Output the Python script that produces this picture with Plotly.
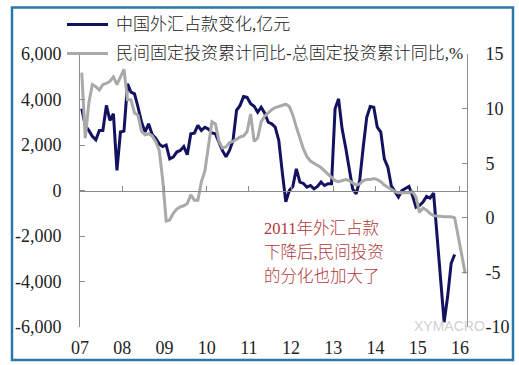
import plotly.graph_objects as go

# ---------------- data (monthly, Jan 2007 onward) ----------------
fx_change = [3600, 2850, 2640, 2380, 2230, 2640, 2640, 3740, 3080, 3370, 880, 2570,
             2610, 4690, 4320, 4250, 3660, 3000, 2570, 2930, 2460, 2300, 2050, 1930,
             2000, 1390, 1470, 1690, 1760, 1930, 1570, 2490, 2520, 2860, 2640, 2780,
             2700, 2530, 2490, 2100, 1750, 1480, 1760, 2200, 3520, 3740, 4130, 4100,
             3810, 3700, 3440, 3660, 3400, 3000, 2930, 2780, 2200, 800, -500, 0,
             180, 950, 370, 310, 150, 220, 70, 180, 370, 220, 300, 300,
             3590, 4030, 2710, 1900, 1030, 70, -150, 440, 1900, 3220, 3690, 3660,
             2780, 2570, 1390, 1030, 200, -70, -290, 0, 100, 180, -220, -730,
             -660, -510, -260, -330, -120, -2000, -3900, -5790, -4650, -3200, -2810]

private_minus_total = [13.3, 7.3, 10.5, 12.2, 12.0, 11.7, 12.2, 12.3, 12.5, 12.9, 12.2, 12.9,
                       13.6, 10.8, 10.8, 9.6, 9.4, 7.9, 7.6, 7.7, 7.5, 7.0, 6.2, 3.5,
                       -0.3, -0.2, 0.4, 0.8, 1.0, 1.1, 1.3, 2.1, 1.6, 1.6, 3.3, 4.3,
                       6.5, 8.8, 8.6, 7.0, 6.4, 6.5, 6.9, 7.0, 7.2, 7.4, 7.5, 7.9,
                       9.5, 7.0, 7.3, 8.8, 9.3, 9.6, 9.9, 10.1, 10.2, 10.3, 10.4, 10.2,
                       9.4, 8.3, 7.2, 6.3, 5.6, 5.2, 5.0, 4.8, 4.6, 4.3, 4.0, 3.7,
                       3.4, 3.3, 3.4, 3.5, 3.4, 3.2, 3.0, 3.1, 3.4, 3.5, 3.5, 3.6,
                       3.5, 3.3, 3.0, 2.8, 2.6, 2.4, 2.3, 2.3, 2.3, 2.3, 2.4, 1.9,
                       0.5, 0.9, 0.7, 0.4, 0.2, 0.15, 0.1, 0.1, 0.1, 0.1, 0.0, -1.7,
                       -3.4, -5.1]

year_labels = ["07", "08", "09", "10", "11", "12", "13", "14", "15", "16"]
left_ticks = [-6000, -4000, -2000, 0, 2000, 4000, 6000]
left_ticktext = ["-6,000", "-4,000", "-2,000", "0", "2,000", "4,000", "6,000"]
right_ticks = [-10, -5, 0, 5, 10, 15]
right_ticktext = ["-10", "-5", "0", "5", "10", "15"]

name_fx = "中国外汇占款变化,亿元"
name_inv = "民间固定投资累计同比-总固定投资累计同比,%"
note_lines = ["2011年外汇占款", "下降后,民间投资", "的分化也加大了"]

# month index positions (category-style axis)
months_fx = list(range(len(fx_change)))
months_inv = list(range(len(private_minus_total)))
year_ticks = [12 * k - 0.5 for k in range(len(year_labels))]
x_range = [-0.5, 109.5]

NAVY = "#121260"
GRAY = "#A9A9A9"
AXIS = "#8C8C8C"
SERIF = "Liberation Serif"
MIXED = "Liberation Serif, Noto Sans CJK SC"

fig = go.Figure()
fig.add_trace(go.Scatter(x=months_fx, y=fx_change, mode="lines", name=name_fx,
                         line=dict(color=NAVY, width=3), xaxis="x", yaxis="y",
                         showlegend=False))
fig.add_trace(go.Scatter(x=months_inv, y=private_minus_total, mode="lines", name=name_inv,
                         line=dict(color=GRAY, width=3), xaxis="x2", yaxis="y2",
                         showlegend=False))

W, H = 519, 365
L, R, T, B = 80, 52, 53.5, 38
pw, ph = W - L - R, H - T - B

def px_x(px):
    return (px - L) / pw

def px_y(py):
    return (H - B - py) / ph

# hand-placed legend (line sample + label), matching the original layout
legend_items = [(name_fx, NAVY, 24), (name_inv, GRAY, 53)]
legend_shapes = []
legend_annots = []
for label, color, ly in legend_items:
    legend_shapes.append(dict(type="line", xref="paper", yref="paper",
                              x0=px_x(67), x1=px_x(108), y0=px_y(ly), y1=px_y(ly),
                              line=dict(color=color, width=3), layer="above"))
    legend_annots.append(dict(text=label, xref="paper", yref="paper", x=px_x(114),
                              y=px_y(ly), xanchor="left", yanchor="middle", showarrow=False,
                              font=dict(family=MIXED, size=17, color="#222222", weight=300)))

# note text, one annotation per line
note_annots = []
for k, line_text in enumerate(note_lines):
    note_annots.append(dict(text=line_text, xref="paper", yref="paper", x=px_x(262),
                            y=px_y(228.5 + 24 * k), xanchor="left", yanchor="middle",
                            align="left", showarrow=False,
                            font=dict(family=MIXED, size=16.5, color="#B0383C", weight=300)))

fig.update_layout(
    width=W, height=H,
    margin=dict(l=L, r=R, t=T, b=B, pad=0, autoexpand=False),
    paper_bgcolor="white", plot_bgcolor="white",
    showlegend=False,
    xaxis=dict(range=x_range, anchor="free", position=0.5, showline=True, linecolor=AXIS,
               linewidth=1, ticks="inside", ticklen=5, tickcolor=AXIS, tickvals=year_ticks,
               showticklabels=False, showgrid=False, zeroline=False),
    xaxis2=dict(range=x_range, overlaying="x", anchor="y", side="bottom", showline=False,
                ticks="", tickvals=year_ticks, ticktext=year_labels, showgrid=False,
                zeroline=False, ticklabelstandoff=8,
                tickfont=dict(family=SERIF, size=18, color="#222222")),
    yaxis=dict(range=[-6000, 6000], tickvals=left_ticks, ticktext=left_ticktext,
               ticks="inside", ticklen=5, tickcolor=AXIS, showline=True, linecolor=AXIS,
               linewidth=1, showgrid=False, zeroline=False, ticklabelstandoff=14,
               tickfont=dict(family=SERIF, size=18, color="#222222")),
    yaxis2=dict(range=[-10, 15], overlaying="y", side="right", anchor="x",
                tickvals=right_ticks, ticktext=right_ticktext,
                ticks="inside", ticklen=5, tickcolor=AXIS, showline=True, linecolor=AXIS,
                linewidth=1, showgrid=False, zeroline=False, ticklabelstandoff=14,
                tickfont=dict(family=SERIF, size=18, color="#222222")),
    annotations=legend_annots + note_annots + [
        dict(text="XYMACRO", xref="paper", yref="paper", x=px_x(412), y=px_y(326),
             xanchor="left", yanchor="middle", showarrow=False,
             font=dict(family="Liberation Sans", size=14, color="rgba(195,195,195,0.8)")),
    ],
    shapes=legend_shapes + [
        dict(type="rect", xref="paper", yref="paper", x0=px_x(12), x1=px_x(513),
             y0=px_y(360), y1=px_y(7), line=dict(color="#2C78AC", width=2.5),
             fillcolor="rgba(0,0,0,0)", layer="above"),
    ],
)

fig.write_html("out.html", config={"displayModeBar": False},
               post_script="document.body.style.margin='0';")
